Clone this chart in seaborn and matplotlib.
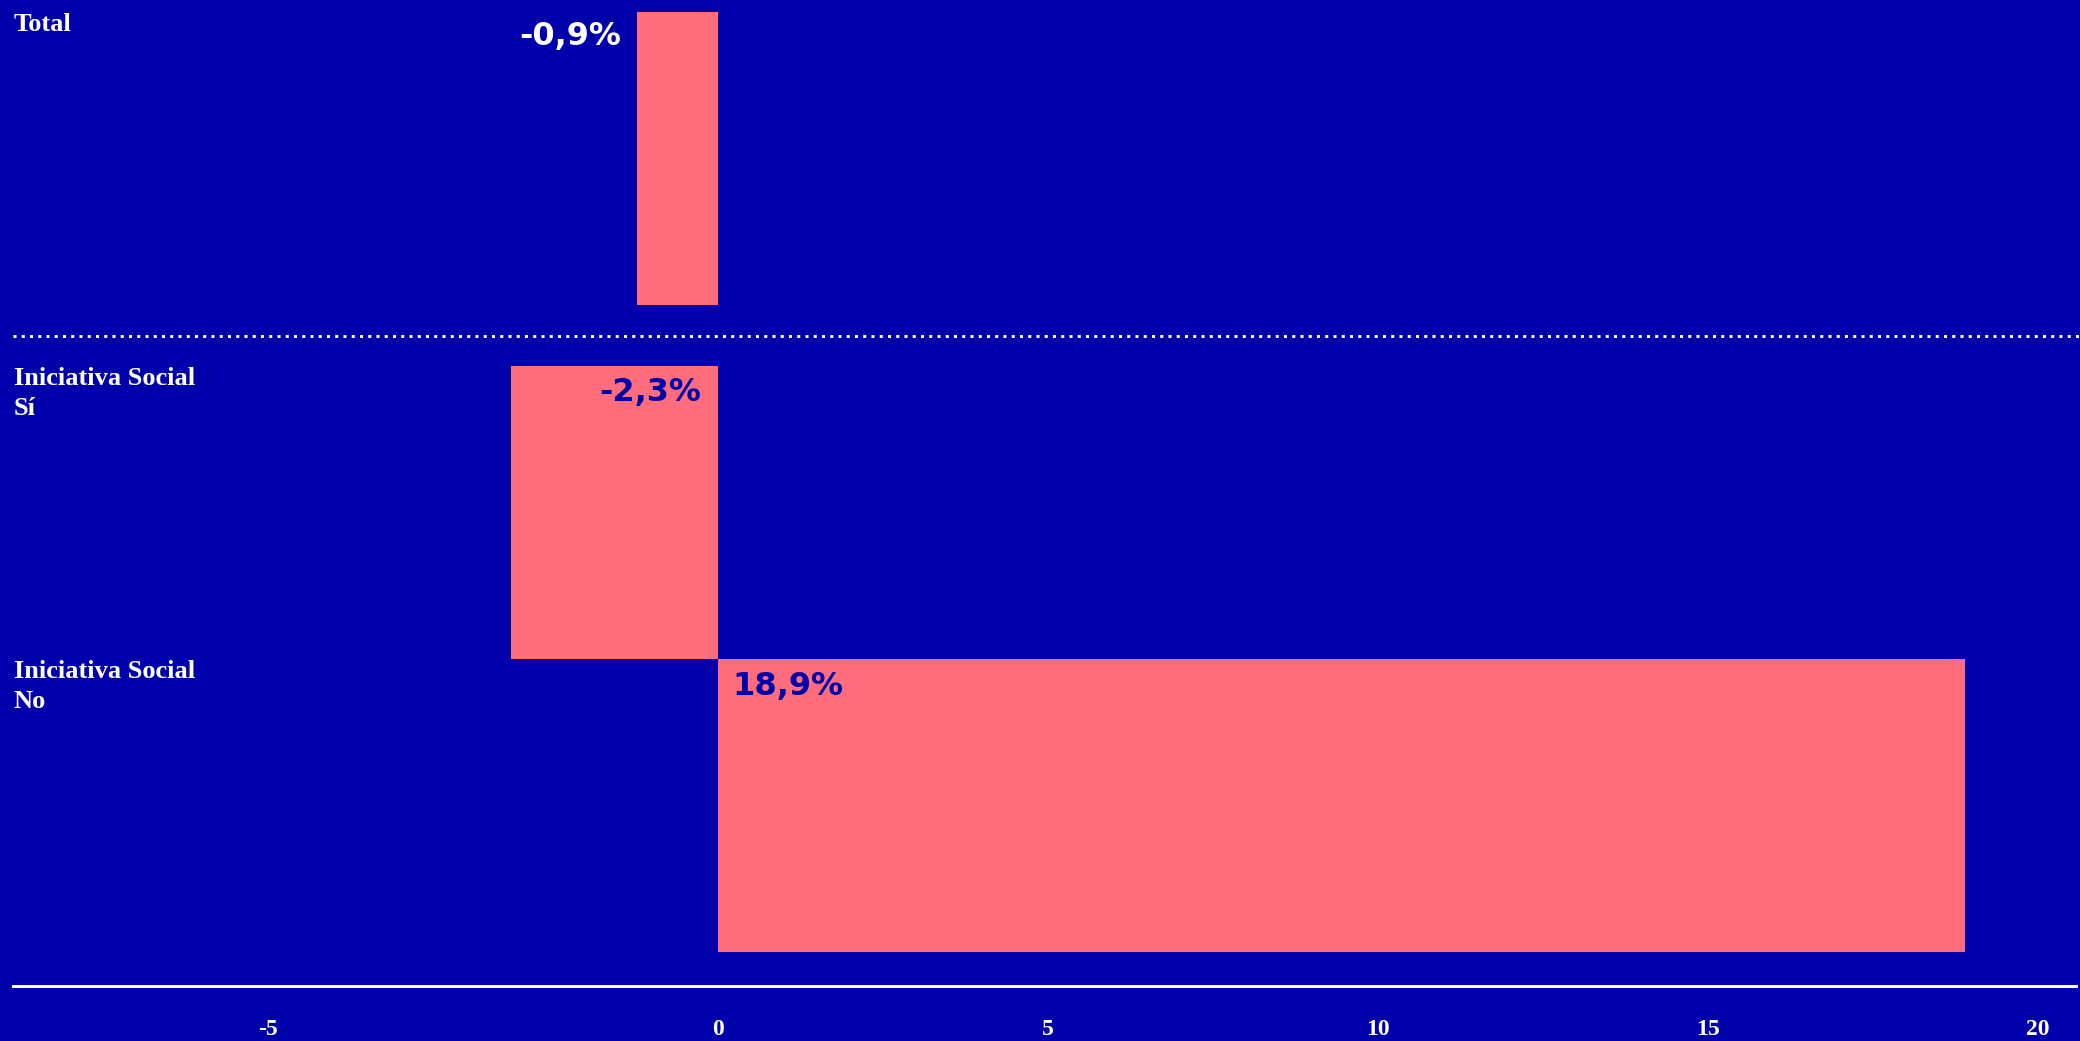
import numpy as np
import pandas as pd
import matplotlib
matplotlib.use("Agg")
import matplotlib.pyplot as plt
import matplotlib.transforms as mtransforms
import matplotlib.ticker as mticker
from matplotlib.lines import Line2D
import seaborn as sns

# --- data -------------------------------------------------------------
categorias = ["Total", "Iniciativa Social\nSí", "Iniciativa Social\nNo"]
grupos = ["total", "desglose", "desglose"]
variacion = [-0.9, -2.3, 18.9]
ticks_x = [-5, 0, 5, 10, 15, 20]
ticks_x_labels = ["-5", "0", "5", "10", "15", "20"]

# --- style ------------------------------------------------------------
FONDO = "#0000AA"
BARRA = "#FF6C7B"
BLANCO = "#FFFFFF"
SERIF = ["Liberation Serif", "DejaVu Serif"]
SANS = ["DejaVu Sans"]

sns.set_theme(style="white")
plt.rcParams["font.family"] = ["DejaVu Sans"]
plt.rcParams["axes.unicode_minus"] = False

W, H, DPI = 2080, 1041, 100
PX = 72 / DPI  # points per pixel

df = pd.DataFrame({"categoria": categorias, "grupo": grupos, "variacion": variacion})

fig = plt.figure(figsize=(W / DPI, H / DPI), dpi=DPI, facecolor=FONDO)
left, width = 13 / W, 2063 / W
ax_top = fig.add_axes([left, 1 - 305 / H, width, 293 / H])
ax_bot = fig.add_axes([left, 1 - 952 / H, width, 586 / H])

# negative side of the axis is drawn wider than the positive side
K_NEG = 90 / 66.0


def fwd(x):
    x = np.asarray(x, dtype=float)
    return np.where(x < 0, x * K_NEG, x)


def inv(y):
    y = np.asarray(y, dtype=float)
    return np.where(y < 0, y / K_NEG, y)


for ax, grupo in [(ax_top, "total"), (ax_bot, "desglose")]:
    sub = df[df["grupo"] == grupo]
    sns.barplot(data=sub, x="variacion", y="categoria", orient="h", width=1.0,
                color=BARRA, saturation=1, linewidth=0, ax=ax)
    ax.set_facecolor(FONDO)
    ax.set_xscale("function", functions=(fwd, inv))
    ax.set_xlim(-(718 - 13) / 90, 20.58)
    ax.set_xlabel("")
    ax.set_ylabel("")
    ax.tick_params(left=False, labelleft=False, length=0)
    for s in ax.spines.values():
        s.set_visible(False)

    n = len(sub)
    ax.set_ylim(n - 0.5, -0.5)
    blend = mtransforms.blended_transform_factory(ax.transAxes, ax.transData)
    for i, (cat, val) in enumerate(zip(sub["categoria"], sub["variacion"])):
        top = i - 0.5
        # category label at the top-left of each band
        ax.annotate(cat, xy=(0, top), xycoords=blend, xytext=(1 * PX, -1 * PX),
                    textcoords="offset points", ha="left", va="top",
                    fontsize=19, fontweight="bold", family=SERIF,
                    color=BLANCO, linespacing=1.38)
        texto = f"{val:.1f}%".replace(".", ",")
        if abs(val) < 1.5:
            ax.annotate(texto, xy=(val, top), xytext=(-16 * PX, -25 * PX),
                        textcoords="offset points", ha="right", va="center",
                        fontsize=23, fontweight="bold", family=SANS, color=BLANCO)
        elif val < 0:
            ax.annotate(texto, xy=(0, top), xytext=(-17 * PX, -27 * PX),
                        textcoords="offset points", ha="right", va="center",
                        fontsize=23, fontweight="bold", family=SANS, color=FONDO)
        else:
            ax.annotate(texto, xy=(0, top), xytext=(14 * PX, -27 * PX),
                        textcoords="offset points", ha="left", va="center",
                        fontsize=23, fontweight="bold", family=SANS, color=FONDO)

ax_top.tick_params(bottom=False, labelbottom=False)

ax_bot.xaxis.set_major_locator(mticker.FixedLocator(ticks_x))
ax_bot.xaxis.set_major_formatter(mticker.FixedFormatter(ticks_x_labels))
ax_bot.xaxis.set_minor_locator(mticker.NullLocator())
ax_bot.tick_params(axis="x", bottom=False, labelbottom=True, pad=24,
                   labelsize=17, labelcolor=BLANCO, labelfontfamily="Liberation Serif")
ax_bot.spines["bottom"].set_visible(True)
ax_bot.spines["bottom"].set_position(("outward", 34 * PX))
ax_bot.spines["bottom"].set_color(BLANCO)
ax_bot.spines["bottom"].set_linewidth(3 * PX)

# dotted separator between the total and the breakdown
fig.add_artist(Line2D([13 / W, 1.0], [1 - 336 / H, 1 - 336 / H],
                      transform=fig.transFigure, color=BLANCO,
                      linewidth=3 * PX, linestyle=(0, (1, 1.75)),
                      dash_capstyle="butt"))

fig.canvas.draw()
for lbl in ax_bot.get_xticklabels():
    lbl.set_fontweight("bold")

fig.savefig("out.png", dpi=DPI, facecolor=FONDO)
